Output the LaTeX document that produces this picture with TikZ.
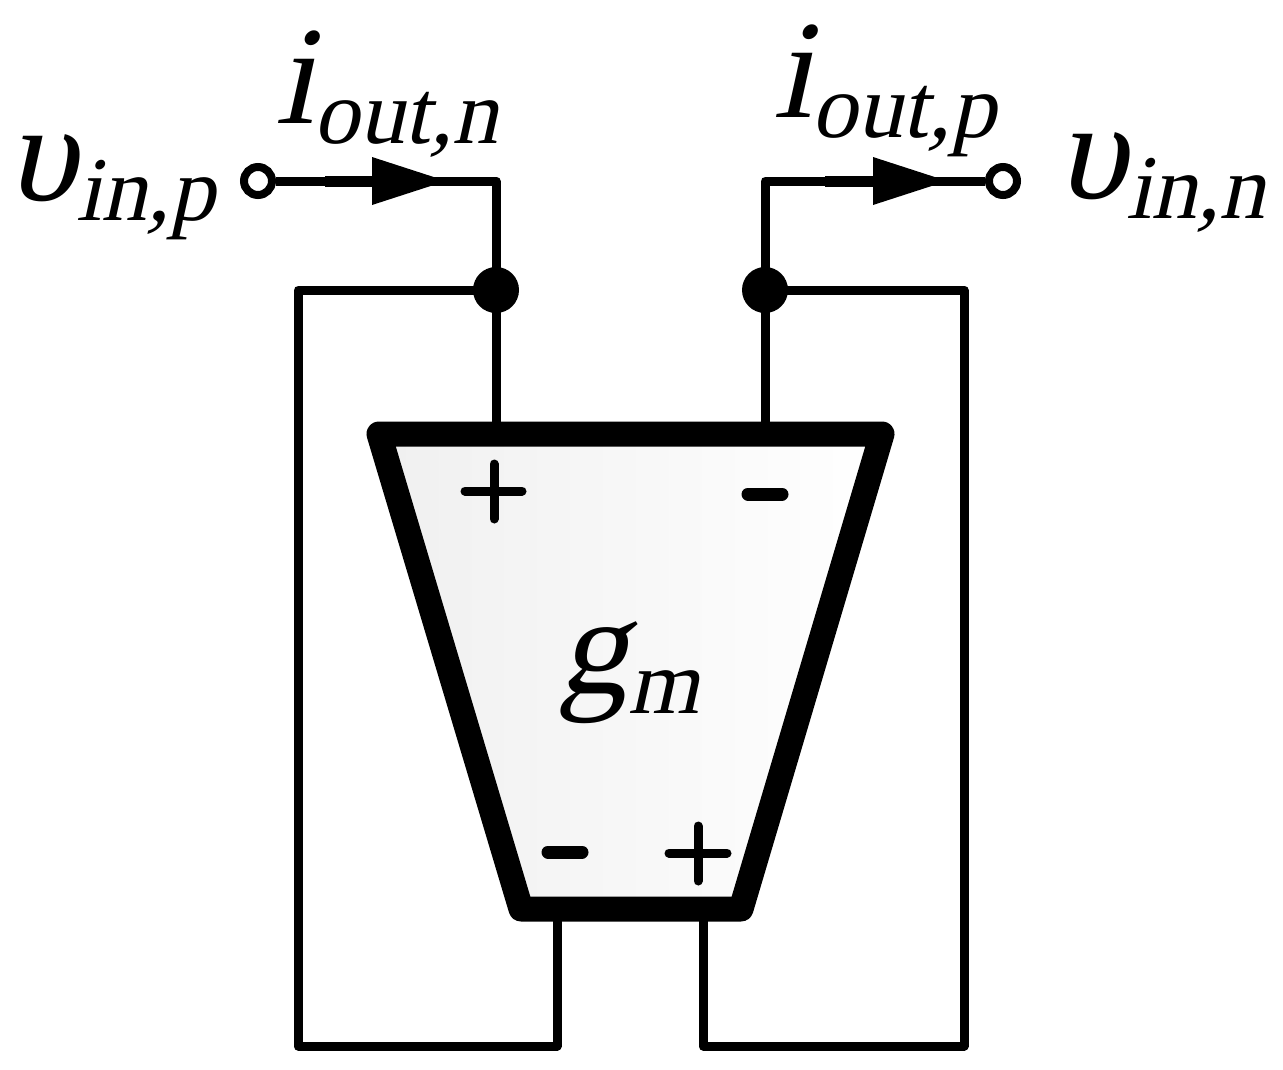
\documentclass[tikz,border=0pt]{standalone}
\usepackage{fontspec}
\newfontfamily\slantserif{Liberation Serif}[FakeSlant=0.22]
\usetikzlibrary{calc}
\newcommand{\symlabel}[3]{\slantserif\fontsize{140}{140}\selectfont #1\hspace{#3}\raisebox{-20pt}{\fontsize{91}{91}\selectfont #2}}
\tikzset{
  x=1pt,y=-1pt,
  wire/.style={draw=black,line width=9pt,line join=round,line cap=round},
  feed/.style={draw=black,line width=9pt,line join=round},
  thickwire/.style={draw=black,line width=11pt},
  terminal/.style={circle,draw=black,fill=white,line width=8pt,minimum size=28pt,inner sep=0pt},
  junction/.style={circle,fill=black,draw=none,minimum size=46pt,inner sep=0pt},
  amp/.style={draw=black,line width=25pt,line join=round,left color=black!6,right color=white},
  label/.style={anchor=base west,inner sep=0pt,outer sep=0pt},
  headtip/.style={fill=black,draw=none},
  signbar/.style={draw=black,line width=9pt,line cap=round},
  minusbar/.style={draw=black,line width=13pt,line cap=round}
}
\begin{document}
\begin{tikzpicture}
\useasboundingbox (0,0) rectangle (1283,1069);
% amplifier
\path[amp] (379,434) -- (882,434) -- (741,909) -- (521,909) -- cycle;
% named points
\coordinate (topL) at (496,422);
\coordinate (topR) at (765,422);
\coordinate (botL) at (557,921);
\coordinate (botR) at (703,921);
\coordinate (cornerLa) at (496,181);
\coordinate (cornerRa) at (765,181);
\coordinate (loopL1) at (298,290);
\coordinate (loopL2) at (298,1046);
\coordinate (loopL3) at (557,1046);
\coordinate (loopR1) at (964,290);
\coordinate (loopR2) at (964,1046);
\coordinate (loopR3) at (703,1046);
\node[junction] (dotL) at (496,290) {};
\node[junction] (dotR) at (765,290) {};
\node[terminal] (inP) at (258,181) {};
\node[terminal] (inN) at (1003,181) {};
% wires
\draw[feed] (inP) -- (cornerLa) -- (dotL.center) -- (topL);
\draw[feed] (inN) -- (cornerRa) -- (dotR.center) -- (topR);
\draw[wire] (dotL.center) -- (loopL1) -- (loopL2) -- (loopL3) -- (botL);
\draw[wire] (dotR.center) -- (loopR1) -- (loopR2) -- (loopR3) -- (botR);
% current arrows
\coordinate (headLa) at (372,157);
\coordinate (headLb) at (372,205);
\coordinate (headLc) at (446,181);
\coordinate (tailL) at (325,181);
\coordinate (headRa) at (873,157);
\coordinate (headRb) at (873,205);
\coordinate (headRc) at (947,181);
\coordinate (tailR) at (825,181);
\draw[thickwire] (tailL) -- (headLa |- tailL);
\draw[thickwire] (tailR) -- (headRa |- tailR);
\fill[headtip] (headLa) -- (headLc) -- (headLb) -- cycle;
\fill[headtip] (headRa) -- (headRc) -- (headRb) -- cycle;
% signs
\draw[signbar] (465,491) -- (522,491);
\draw[signbar] (494,464) -- (494,519);
\draw[minusbar] (748,494) -- (782,494);
\draw[minusbar] (548,852) -- (582,852);
\draw[signbar] (669,853) -- (727,853);
\draw[signbar] (698,826) -- (698,881);
% labels
\node[label] (vinp) at (7,200) {\symlabel{υ}{in,p}{0pt}};
\node[label] (iout1) at (275,123) {\symlabel{i}{out,n}{0pt}};
\node[label] (iout2) at (773,117) {\symlabel{i}{out,p}{0pt}};
\node[label] (vinn) at (1057,198) {\symlabel{υ}{in,n}{0pt}};
\node[label] (gm) at (558,693) {\symlabel{g}{m}{0pt}};
\end{tikzpicture}
\end{document}
